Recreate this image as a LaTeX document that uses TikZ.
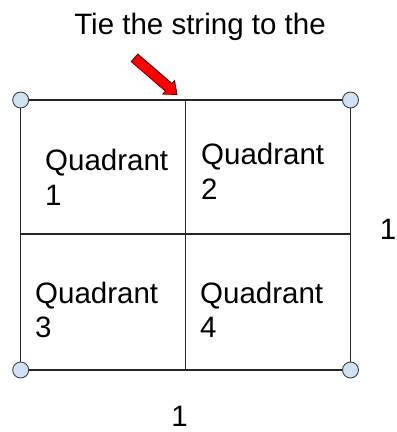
\documentclass[tikz,border=0pt]{standalone}
\usepackage{fontspec}
\setmainfont{Liberation Sans}
\definecolor{cornerblue}{RGB}{207,226,243}
\begin{document}
\begin{tikzpicture}[x=1pt,y=1pt,
  lbl/.style={font=\fontsize{29.5}{34.5}\selectfont, inner sep=0pt, align=left},
  knob/.style={circle, draw=black!75, fill=cornerblue, line width=0.9pt, minimum size=16pt, inner sep=0pt},
  frame/.style={line width=1.4pt, draw=black!85},
  redarrow/.style={fill=red, draw=black!60!red, line width=0.8pt, line join=miter}]
\useasboundingbox (0,0) rectangle (397,432);
% corners and midpoints
\coordinate (A) at (20.7,332);
\coordinate (B) at (350.5,332);
\coordinate (C) at (350.5,62);
\coordinate (D) at (20.7,62);
\coordinate (tm) at (185.7,332);
\coordinate (bm) at (185.7,62);
\coordinate (lm) at (20.7,198);
\coordinate (rm) at (350.5,198);
% frame
\draw[frame] (A) -- (B) -- (C) -- (D) -- cycle;
\draw[frame] (tm) -- (bm);
\draw[frame] (lm) -- (rm);
% corner knobs
\node[knob] (k1) at (A) {};
\node[knob] (k2) at (B) {};
\node[knob] (k3) at (C) {};
\node[knob] (k4) at (D) {};
% arrow
\draw[redarrow] (131.2,370.4) -- (137.8,378.0) -- (172.0,348.5) -- (174.6,351.5)
  -- (177,337.5) -- (162.8,337.9) -- (165.4,340.9) -- cycle;
% texts
\node[lbl, anchor=base] (title) at (200,397) {Tie the string to the};
\node[lbl, anchor=north west] (q1) at (45,282.7) {Quadrant\\1};
\node[lbl, anchor=north west] (q2) at (201,288.7) {Quadrant\\2};
\node[lbl, anchor=north west] (q3) at (35,150.3) {Quadrant\\3};
\node[lbl, anchor=north west] (q4) at (200,150.3) {Quadrant\\4};
\node[lbl, anchor=base] (side) at (388,192.7) {1};
\node[lbl, anchor=base] (bottom) at (179.5,5.5) {1};
\end{tikzpicture}
\end{document}
